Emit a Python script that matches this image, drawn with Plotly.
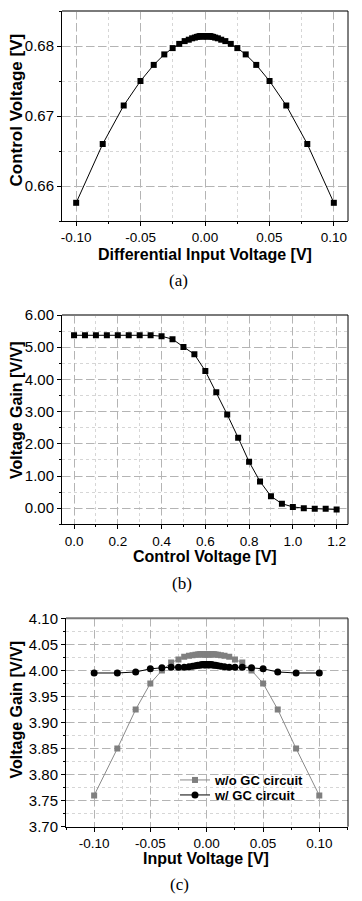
import plotly.graph_objects as go

# ---------------- data ----------------
# (a) control voltage vs differential input voltage
xa = [-0.1, -0.0794, -0.0631, -0.0501, -0.0398, -0.0316, -0.0251, -0.02, -0.0158, -0.0126, -0.01,
      -0.0079, -0.0063, -0.005, -0.004, -0.0032, -0.0025, -0.002, -0.0016, -0.0013, -0.001, 0.0,
      0.001, 0.0013, 0.0016, 0.002, 0.0025, 0.0032, 0.004, 0.005, 0.0063, 0.0079, 0.01, 0.0126,
      0.0158, 0.02, 0.0251, 0.0316, 0.0398, 0.0501, 0.0631, 0.0794, 0.1]
ya = [0.6576, 0.6660, 0.6715, 0.6750, 0.6773, 0.6788, 0.6797, 0.6803, 0.6807, 0.6809, 0.6811,
      0.6812, 0.6813, 0.68135, 0.6814, 0.6814, 0.6814, 0.6814, 0.6814, 0.6814, 0.6814, 0.6814,
      0.6814, 0.6814, 0.6814, 0.6814, 0.6814, 0.6814, 0.6814, 0.68135, 0.6813, 0.6812, 0.6811, 0.6809,
      0.6807, 0.6803, 0.6797, 0.6788, 0.6773, 0.6750, 0.6715, 0.6660, 0.6576]

# (b) voltage gain vs control voltage
xb = [0.0, 0.05, 0.1, 0.15, 0.2, 0.25, 0.3, 0.35, 0.4, 0.45, 0.5, 0.55, 0.6, 0.65, 0.7, 0.75,
      0.8, 0.85, 0.9, 0.95, 1.0, 1.05, 1.1, 1.15, 1.2]
yb = [5.37, 5.37, 5.37, 5.37, 5.37, 5.37, 5.37, 5.37, 5.34, 5.25, 5.01, 4.78, 4.26, 3.60, 2.91,
      2.19, 1.44, 0.83, 0.37, 0.14, 0.04, 0.0, -0.02, -0.02, -0.04]

# (c) voltage gain vs input voltage
xc = xa
yc_wo = [3.760, 3.850, 3.925, 3.975, 4.000, 4.015, 4.021, 4.026, 4.028, 4.029, 4.030,
         4.0305, 4.031, 4.031, 4.031, 4.031, 4.031, 4.031, 4.031, 4.031, 4.031, 4.031,
         4.031, 4.031, 4.031, 4.031, 4.031, 4.031, 4.031, 4.031, 4.031, 4.0305, 4.030, 4.029,
         4.028, 4.026, 4.021, 4.015, 4.000, 3.975, 3.925, 3.850, 3.760]
yc_w = [3.995, 3.995, 3.997, 4.003, 4.005, 4.006, 4.006, 4.006, 4.007, 4.008, 4.009,
        4.010, 4.010, 4.011, 4.011, 4.011, 4.011, 4.011, 4.011, 4.011, 4.011, 4.011,
        4.011, 4.011, 4.011, 4.011, 4.011, 4.011, 4.011, 4.011, 4.010, 4.010, 4.009, 4.008,
        4.007, 4.006, 4.006, 4.006, 4.005, 4.003, 3.997, 3.995, 3.995]
series_names = ["w/o GC circuit", "w/ GC circuit"]

# tick labels
xa_ticks = [-0.10, -0.05, 0.0, 0.05, 0.10]
xa_text = ["-0.10", "-0.05", "0.00", "0.05", "0.10"]
ya_ticks = [0.66, 0.67, 0.68]
ya_text = ["0.66", "0.67", "0.68"]
xb_ticks = [0.0, 0.2, 0.4, 0.6, 0.8, 1.0, 1.2]
xb_text = ["0.0", "0.2", "0.4", "0.6", "0.8", "1.0", "1.2"]
yb_ticks = [0, 1, 2, 3, 4, 5, 6]
yb_text = ["0.00", "1.00", "2.00", "3.00", "4.00", "5.00", "6.00"]
xc_ticks = xa_ticks
xc_text = xa_text
yc_ticks = [3.70, 3.75, 3.80, 3.85, 3.90, 3.95, 4.00, 4.05, 4.10]
yc_text = ["3.70", "3.75", "3.80", "3.85", "3.90", "3.95", "4.00", "4.05", "4.10"]

# ---------------- figure ----------------
# the page body keeps the browser's default 8px margin: the figure is placed
# 8px right/down, so reference pixel positions are shifted by that amount
OFF = 8
W, H = 362 - OFF, 901 - OFF
SANS = "Liberation Sans, Arial, sans-serif"
SERIF = "Liberation Serif, Times New Roman, serif"

fig = go.Figure()

fig.add_trace(go.Scatter(x=xa, y=ya, mode="lines+markers", xaxis="x", yaxis="y",
                         line=dict(color="black", width=1),
                         marker=dict(symbol="square", size=6, color="black"),
                         showlegend=False))
fig.add_trace(go.Scatter(x=xb, y=yb, mode="lines+markers", xaxis="x2", yaxis="y2",
                         line=dict(color="black", width=1),
                         marker=dict(symbol="square", size=6, color="black"),
                         showlegend=False))
fig.add_trace(go.Scatter(x=xc, y=yc_wo, mode="lines+markers", xaxis="x3", yaxis="y3",
                         name=series_names[0], legend="legend",
                         line=dict(color="#8a8a8a", width=1),
                         marker=dict(symbol="square", size=6, color="#7f7f7f")))
fig.add_trace(go.Scatter(x=xc, y=yc_w, mode="lines+markers", xaxis="x3", yaxis="y3",
                         name=series_names[1], legend="legend2",
                         line=dict(color="black", width=1),
                         marker=dict(symbol="circle", size=7, color="black")))


def px_x(p):
    return (p - OFF) / W


def px_y(p):
    return 1 - (p - OFF) / H


MAJ_GRID = "#b4b4b4"
MIN_GRID = "#d6d6d6"


def axis(domain, rng, tv, tt, minor_dtick, anchor, fsize):
    return dict(domain=domain, range=rng, anchor=anchor, automargin=False,
                tickmode="array", tickvals=tv, ticktext=tt,
                ticks="outside", ticklen=4, tickcolor="black", tickwidth=1,
                showline=True, linecolor="black", linewidth=1,
                showgrid=True, gridcolor=MAJ_GRID, griddash="8px,4px", gridwidth=1,
                zeroline=False,
                tickfont=dict(family=SANS, size=fsize, color="black"),
                minor=dict(dtick=minor_dtick, tick0=0, showgrid=True, gridcolor=MIN_GRID,
                           griddash="dot", gridwidth=1, ticks="outside", ticklen=2,
                           tickcolor="black"))


dom_x_ab = [px_x(62), px_x(348)]
dom_x_c = [px_x(66), px_x(348)]
dom_y_a = [px_y(221), px_y(11)]
dom_y_b = [px_y(524.3), px_y(315)]
dom_y_c = [px_y(826.7), px_y(618.3)]

legend_font = dict(family=SANS, size=13, color="black", weight="bold")
fig.update_layout(
    width=W, height=H, autosize=False,
    margin=dict(l=0, r=0, t=0, b=0, autoexpand=False),
    paper_bgcolor="white", plot_bgcolor="white",
    xaxis=axis(dom_x_ab, [-0.111, 0.111], xa_ticks, xa_text, 0.025, "y", 13.5),
    yaxis=axis(dom_y_a, [0.655, 0.685], ya_ticks, ya_text, 0.005, "x", 15),
    xaxis2=axis(dom_x_ab, [-0.055, 1.252], xb_ticks, xb_text, 0.1, "y2", 13.5),
    yaxis2=axis(dom_y_b, [-0.5, 6.0], yb_ticks, yb_text, 0.5, "x2", 15),
    xaxis3=axis(dom_x_c, [-0.125, 0.1255], xc_ticks, xc_text, 0.025, "y3", 13.5),
    yaxis3=axis(dom_y_c, [3.70, 4.10], yc_ticks, yc_text, 0.025, "x3", 15),
    legend=dict(x=px_x(175), y=px_y(780), xanchor="left", yanchor="middle",
                bgcolor="rgba(0,0,0,0)", borderwidth=0, font=legend_font, itemwidth=30),
    legend2=dict(x=px_x(175), y=px_y(795), xanchor="left", yanchor="middle",
                 bgcolor="rgba(0,0,0,0)", borderwidth=0, font=legend_font, itemwidth=30),
)

# top (gray) and right (black) frame lines
for xr, yr in [("x", "y"), ("x2", "y2"), ("x3", "y3")]:
    fig.add_shape(type="line", xref=xr + " domain", yref=yr + " domain",
                  x0=0, x1=1, y0=1, y1=1, line=dict(color="#7a7a7a", width=2))
    fig.add_shape(type="line", xref=xr + " domain", yref=yr + " domain",
                  x0=1, x1=1, y0=0, y1=1, line=dict(color="black", width=1))

# axis titles and captions
titles = [
    ("Differential Input Voltage [V]", 205, 254.5, 0, 16),
    ("Control Voltage [V]", 16, 110.5, -90, 17),
    ("Control Voltage [V]", 205, 556, 0, 16),
    ("Voltage Gain [V/V]", 16, 410, -90, 16),
    ("Input Voltage [V]", 205.5, 858, 0, 16),
    ("Voltage Gain [V/V]", 16, 709.5, -90, 16),
]
for text, cx, cy, ang, sz in titles:
    fig.add_annotation(text=text, x=px_x(cx), y=px_y(cy), xref="paper", yref="paper",
                       xanchor="center", yanchor="middle", showarrow=False, textangle=ang,
                       borderpad=0,
                       font=dict(family=SANS, size=sz, color="black", weight="bold"))

captions = [("(a)", 178, 280), ("(b)", 182, 583), ("(c)", 179, 884)]
for text, cx, cy in captions:
    fig.add_annotation(text=text, x=px_x(cx), y=px_y(cy), xref="paper", yref="paper",
                       xanchor="center", yanchor="middle", showarrow=False, borderpad=0,
                       font=dict(family=SERIF, size=17, color="black"))

fig.write_html("out.html")
